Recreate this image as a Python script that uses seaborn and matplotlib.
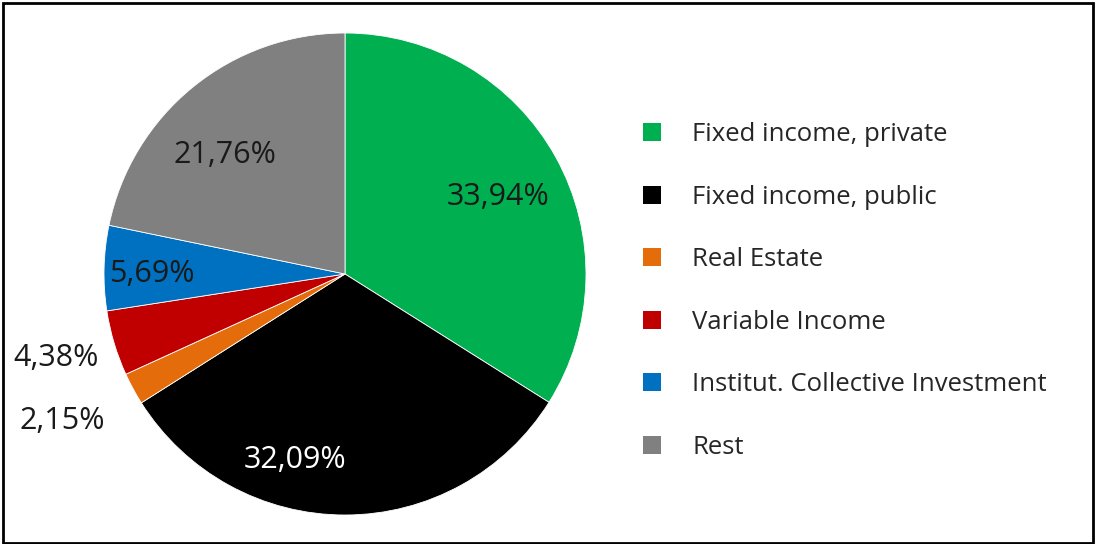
import matplotlib
matplotlib.use("Agg")
import matplotlib.pyplot as plt
from matplotlib.patches import Patch, Rectangle
import numpy as np
import seaborn as sns

# Portfolio composition (percent of total)
categories = ["Fixed income, private", "Fixed income, public", "Real Estate",
              "Variable Income", "Institut. Collective Investment", "Rest"]
shares = [33.94, 32.09, 2.15, 4.38, 5.69, 21.76]
share_labels = ["33,94%", "32,09%", "2,15%", "4,38%", "5,69%", "21,76%"]

colors = ["#00B050", "#000000", "#E46C0A", "#C00000", "#0070C0", "#808080"]
label_colors = ["#1a1a1a", "white", "#1a1a1a", "#1a1a1a", "#1a1a1a", "#1a1a1a"]
# radial distance (in radii) and angular shift (deg) of each percentage label
label_radius = [0.71, 0.80, 1.32, 1.25, 0.80, 0.70]
label_shift = [-2.0, -15.0, -1.0, -0.5, 1.5, 6.0]

sns.set_theme(style="white")
plt.rcParams["font.family"] = ["Open Sans", "DejaVu Sans"]

W, H = 1096, 544
fig = plt.figure(figsize=(W / 100, H / 100), dpi=100)
fig.patch.set_facecolor("white")

cx, cy, r = 345, 274, 241
ax = fig.add_axes([(cx - r) / W, (H - cy - r) / H, 2 * r / W, 2 * r / H])
wedges, _ = ax.pie(shares, colors=colors, startangle=90, counterclock=False,
                   radius=1.0, wedgeprops=dict(edgecolor="white", linewidth=0.6))
ax.set_xlim(-1, 1)
ax.set_ylim(-1, 1)
ax.set_aspect("equal")
ax.axis("off")

for w, txt, col, rad, sh in zip(wedges, share_labels, label_colors, label_radius, label_shift):
    ang = np.deg2rad((w.theta1 + w.theta2) / 2 + sh)
    ax.text(rad * np.cos(ang), rad * np.sin(ang), txt, ha="center", va="center",
            fontsize=22, color=col, clip_on=False)

handles = [Patch(facecolor=c, edgecolor="none") for c in colors]
fig.legend(handles, categories, loc="upper left", bbox_to_anchor=(633 / W, 1 - 112 / H),
           frameon=False, fontsize=18.5, handlelength=0.7, handleheight=0.7,
           handletextpad=1.2, labelspacing=1.46, borderaxespad=0)

# outer frame of the figure
fig.add_artist(Rectangle((3 / W, 1 / H), 1 - 6 / W, 1 - 4 / H, transform=fig.transFigure,
                         fill=False, edgecolor="black", linewidth=2))

fig.savefig("out.png", dpi=100)
